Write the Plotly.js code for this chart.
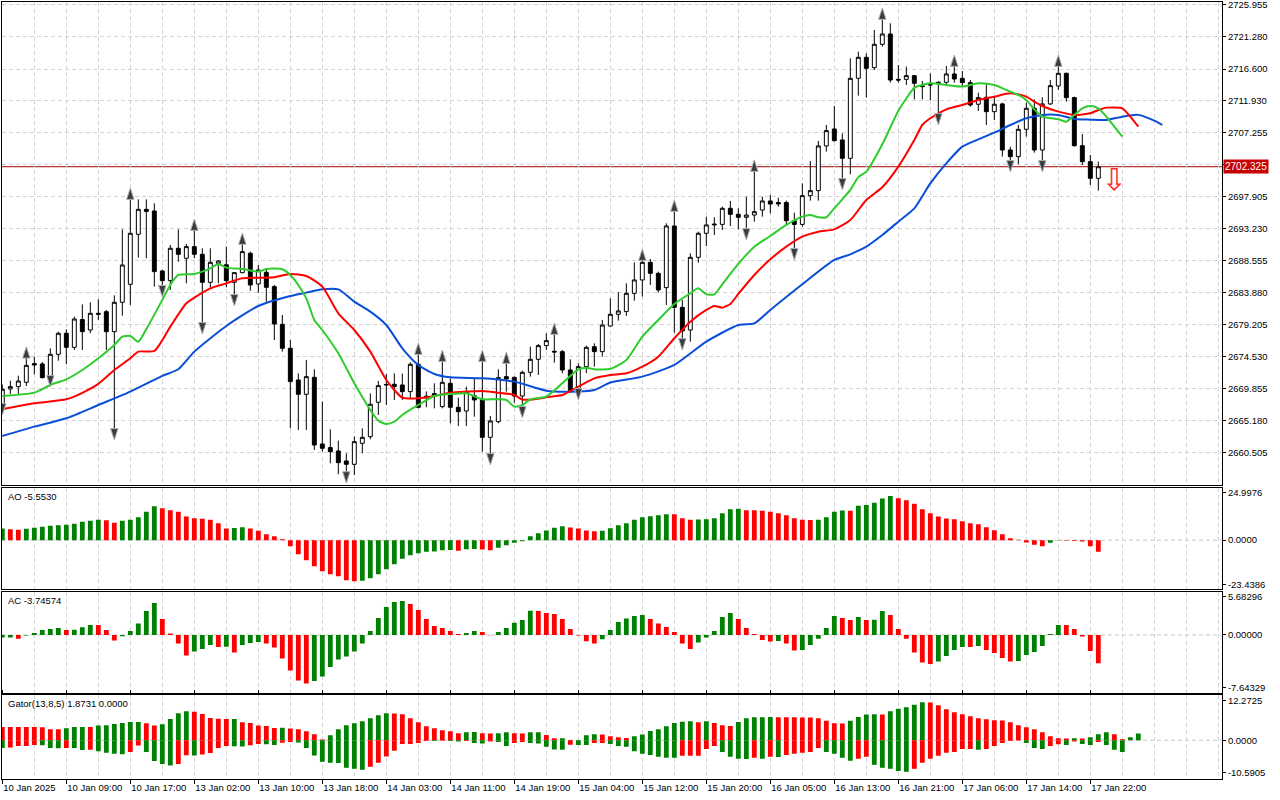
<!DOCTYPE html>
<html>
<head>
<meta charset="utf-8">
<script src="https://cdn.plot.ly/plotly-3.0.1.min.js"></script>
<style>
  html, body { margin: 0; padding: 0; background: #fff; }
  #chart { width: 1280px; height: 800px; }
</style>
</head>
<body>
<div id="chart"></div>
<script>
// XAUUSD H1, 10 Jan 01:00 .. 17 Jan 22:00 (bar index = hour)
const opens = [2667.27,2669.86,2670.2,2670.83,2673.56,2673.51,2671.51,2674.92,2677.99,2675.94,
  2680.0,2678.47,2680.91,2681.15,2678.23,2682.52,2685.15,2692.45,2696.1,2695.86,
  2687.1,2685.68,2690.41,2688.95,2690.65,2689.53,2685.44,2688.2,2688.0,2685.44,
  2686.85,2689.68,2685.2,2686.9,2684.81,2679.3,2675.8,2671.17,2669.08,2671.56,
  2661.82,2661.29,2660.8,2659.34,2658.85,2661.92,2662.89,2667.91,2670.44,2670.54,
  2670.44,2669.47,2673.46,2668.6,2668.9,2667.28,2670.68,2667.18,2666.64,2668.88,
  2668.35,2662.79,2665.08,2671.66,2671.56,2668.83,2672.29,2674.19,2676.19,2675.36,
  2675.31,2672.63,2669.6,2673.12,2676.04,2675.31,2679.06,2680.77,2681.16,2683.83,
  2685.78,2688.36,2686.75,2684.66,2693.67,2681.78,2678.47,2689.09,2692.6,2693.95,
  2693.9,2696.25,2695.37,2694.94,2695.27,2696.0,2697.32,2697.1,2697.1,2694.45,
  2693.9,2698.1,2698.83,2705.36,2707.84,2706.24,2703.55,2715.24,2718.31,2716.8,
  2720.21,2721.72,2715.09,2715.09,2715.63,2714.17,2714.27,2714.66,2714.66,2715.88,
  2715.24,2714.61,2711.45,2712.47,2710.37,2711.5,2704.77,2703.8,2707.79,2710.86,
  2704.77,2711.5,2714.12,2715.97,2712.42,2705.4,2703.07,2700.63];
const highs = [2670.5,2671.07,2671.8,2674.68,2674.58,2673.8,2675.8,2678.23,2678.57,2680.42,
  2682.22,2682.52,2682.95,2681.4,2683.54,2693.18,2697.71,2697.56,2697.56,2696.98,
  2687.24,2690.9,2693.18,2691.04,2693.33,2690.41,2690.41,2688.7,2690.65,2686.9,
  2692.11,2689.92,2687.97,2687.5,2685.05,2680.67,2677.01,2672.15,2674.09,2672.73,
  2668.0,2663.96,2662.31,2660.46,2662.9,2664.11,2669.22,2671.02,2672.05,2672.15,
  2672.1,2673.75,2675.31,2669.5,2670.68,2674.34,2671.41,2668.59,2670.2,2671.32,
  2674.24,2665.91,2672.73,2673.85,2671.66,2672.53,2676.04,2676.43,2677.99,2678.13,
  2675.55,2674.19,2673.6,2676.19,2676.53,2679.94,2683.1,2684.0,2685.29,2688.36,
  2688.85,2688.85,2686.99,2694.06,2696.0,2682.86,2689.68,2692.84,2695.03,2694.94,
  2696.49,2697.32,2696.25,2697.95,2703.31,2697.95,2698.2,2697.8,2697.37,2695.61,
  2699.9,2703.16,2706.09,2708.43,2711.2,2707.21,2718.16,2719.14,2718.89,2722.3,
  2724.64,2723.28,2717.19,2716.95,2715.73,2714.85,2715.97,2714.8,2717.04,2717.43,
  2716.31,2714.99,2713.15,2714.51,2712.56,2711.69,2705.26,2708.42,2711.69,2712.17,
  2712.47,2714.99,2717.43,2716.07,2712.56,2707.11,2704.04,2703.07];
const lows = [2666.6,2669.13,2669.13,2670.29,2672.0,2671.4,2671.12,2673.99,2673.46,2675.55,
  2675.55,2678.0,2679.94,2675.55,2663.38,2680.57,2682.13,2689.04,2688.95,2684.81,
  2684.32,2684.32,2688.46,2685.29,2688.95,2678.96,2684.71,2685.29,2684.71,2683.1,
  2686.75,2684.2,2683.93,2682.61,2677.01,2675.31,2664.11,2663.87,2663.87,2660.94,
  2660.7,2659.0,2657.39,2656.66,2657.29,2660.46,2662.5,2666.06,2667.52,2668.25,
  2668.25,2668.49,2667.03,2667.18,2667.03,2667.03,2664.84,2664.45,2664.45,2665.81,
  2660.7,2659.73,2664.84,2669.47,2667.86,2666.54,2671.66,2671.9,2675.55,2673.7,
  2672.15,2669.32,2668.64,2672.15,2673.12,2674.58,2678.96,2679.84,2680.52,2682.76,
  2683.35,2685.05,2683.93,2682.13,2678.09,2676.53,2676.77,2688.31,2690.74,2692.35,
  2693.08,2693.67,2693.18,2692.6,2694.3,2695.03,2695.52,2696.49,2693.82,2689.77,
  2693.57,2697.37,2697.37,2704.53,2705.99,2699.9,2701.22,2712.71,2712.42,2716.46,
  2719.87,2714.61,2714.61,2714.27,2712.17,2712.17,2712.07,2709.88,2714.27,2714.61,
  2714.12,2711.1,2710.47,2708.42,2709.15,2703.8,2702.68,2702.68,2706.72,2704.38,
  2702.68,2711.35,2713.54,2711.83,2705.26,2702.58,2699.66,2698.83];
const closes = [2669.81,2670.2,2671.02,2673.31,2673.36,2671.51,2674.92,2677.99,2675.94,2680.08,
  2678.23,2680.91,2680.78,2678.23,2682.52,2687.97,2692.6,2696.1,2695.8,2687.0,
  2685.68,2690.41,2689.53,2690.65,2689.53,2685.44,2688.36,2688.55,2685.68,2686.85,
  2689.92,2685.05,2687.24,2684.71,2679.35,2675.8,2670.93,2669.08,2671.66,2661.67,
  2661.19,2660.7,2659.09,2658.85,2662.16,2662.79,2667.62,2670.34,2670.5,2670.2,
  2669.47,2673.46,2667.18,2668.8,2669.2,2670.83,2667.18,2666.54,2669.47,2668.25,
  2662.79,2665.18,2671.51,2671.32,2668.83,2672.29,2674.19,2676.19,2676.92,2675.26,
  2672.63,2669.6,2673.12,2675.94,2675.31,2679.2,2680.77,2681.26,2683.83,2685.78,
  2688.36,2686.75,2684.32,2693.67,2681.78,2678.33,2689.09,2692.6,2693.82,2693.85,
  2696.25,2695.37,2694.94,2695.27,2695.76,2697.32,2696.88,2696.88,2694.45,2693.9,
  2698.1,2698.83,2705.36,2707.6,2706.14,2703.55,2715.24,2718.31,2716.7,2720.21,
  2721.72,2714.99,2714.99,2715.63,2714.51,2714.03,2714.3,2714.5,2715.88,2715.14,
  2714.61,2711.35,2712.42,2710.37,2711.45,2704.77,2703.8,2707.79,2710.86,2704.77,
  2711.5,2714.17,2715.97,2712.42,2705.4,2703.07,2700.63,2702.325];

// Alligator lines, sampled at bar indices (they run past the last bar: shifted forward)
const jawBars = [0,4,8,12,16,20,22,24,28,32,36,38,40,42,44,46,48,50,52,54,56,60,64,68,72,74,76,80,84,88,92,94,96,100,104,106,108,110,112,114,116,118,120,122,124,126,128,130,132,134,136,138,140,142,144,145];
const jawVals = [2662.99,2664.35,2665.57,2667.52,2669.47,2671.76,2672.73,2675.31,2679.06,2681.98,2683.44,2683.93,2684.42,2684.4,2682.61,2681.15,2679.2,2675.8,2673.36,2672.05,2671.56,2671.41,2670.93,2669.61,2669.5,2669.71,2670.8,2671.66,2673.36,2676.77,2679.2,2679.45,2681.4,2685.15,2688.7,2689.53,2690.65,2692.35,2694.3,2696.25,2699.9,2702.82,2705.26,2706.33,2707.3,2708.42,2709.4,2709.89,2709.89,2709.3,2709.2,2709.15,2709.64,2709.9,2709.06,2708.42];
const teethBars = [0,4,8,10,12,14,16,17,19,21,23,24,26,28,30,32,34,36,38,40,42,44,46,48,50,52,54,56,58,60,62,64,65,66,68,70,72,74,76,78,80,82,84,86,88,89,90,91,92,94,96,98,100,102,104,106,108,110,112,114,115,116,118,120,122,124,126,128,129,130,132,134,136,137,138,140,141,142];
const teethVals = [2666.88,2667.76,2668.35,2669.3,2670.6,2672.63,2674.34,2675.31,2675.41,2678.96,2682.37,2683.2,2684.56,2685.29,2686.02,2686.1,2686.17,2686.66,2686.36,2684.81,2680.91,2678.47,2675.31,2671.17,2668.59,2668.49,2668.83,2669.32,2669.47,2669.56,2669.32,2668.98,2668.3,2668.3,2668.64,2668.98,2670.2,2671.41,2671.9,2672.14,2673.12,2674.58,2677.26,2679.69,2681.4,2681.98,2681.74,2682.27,2683.74,2686.51,2688.8,2690.65,2692.11,2692.84,2693.18,2694.54,2697.47,2699.32,2702.34,2706.23,2708.42,2709.4,2710.71,2711.35,2712.08,2712.56,2713.05,2712.56,2711.83,2711.2,2710.37,2709.89,2710.13,2710.62,2710.96,2710.86,2709.64,2708.18];
const lipsBars = [0,4,6,8,10,12,14,15,16,17,18,20,21,22,24,26,27,28,30,32,33,34,35,36,37,38,39,40,42,44,46,47,48,49,50,52,54,56,58,60,62,63,64,65,66,68,70,72,73,74,76,78,80,82,84,86,87,88,89,90,92,94,96,98,100,101,102,103,104,105,106,107,108,110,112,113,114,116,118,120,122,124,126,127,128,129,130,132,133,134,135,136,137,138,139,140];
const lipsVals = [2668.83,2669.32,2670.44,2671.27,2672.63,2674.34,2676.28,2677.5,2677.6,2676.77,2678.6,2682.86,2685.05,2686.51,2686.66,2687.48,2688.12,2687.58,2687.39,2687.0,2687.39,2687.44,2687.34,2686.51,2685.05,2683.1,2679.94,2678.47,2675.07,2670.68,2666.79,2665.23,2664.74,2665.08,2666.06,2667.52,2668.83,2669.12,2669.22,2668.35,2668.35,2668.25,2667.27,2667.5,2668.35,2668.74,2670.68,2672.73,2672.97,2672.73,2672.8,2674.09,2677.5,2679.94,2682.27,2683.83,2684.56,2683.69,2683.69,2685.15,2688.12,2690.65,2692.21,2693.82,2695.03,2695.28,2694.94,2694.94,2696.25,2697.56,2698.93,2700.8,2701.6,2705.6,2710.5,2712.3,2713.85,2714.51,2714.27,2714.03,2714.51,2714.27,2713.29,2712.81,2712.08,2710.71,2709.64,2709.25,2708.91,2709.89,2710.86,2711.2,2710.86,2709.64,2708.18,2706.72];

// Bill Williams fractals (arrow positions)
const upFractalBars = [3,16,24,30,52,55,60,63,69,80,84,94,110,119,132];
const upFractalPrice = [2676.03,2699.22,2694.69,2692.65,2676.57,2675.55,2675.55,2675.26,2679.5,2690.3,2697.47,2703.31,2725.52,2718.65,2718.65];
const downFractalBars = [0,6,14,20,25,29,43,61,65,72,85,93,99,105,117,126,130];
const downFractalPrice = [2666.06,2670.15,2662.4,2683.3,2677.89,2681.98,2656.1,2658.75,2665.62,2668.25,2675.55,2691.62,2688.7,2698.93,2708.42,2701.56,2701.56];
const sellSignalBars = [139];
const sellSignalPrice = [2700.0];

// Awesome Oscillator
const aoVals = [5.56,5.24,4.93,5.40,5.88,6.36,6.83,7.15,7.31,7.79,
  8.74,9.21,9.69,9.53,8.26,9.21,9.69,10.96,13.5,16.2,
  15.25,14.3,13.5,11.28,10.49,10.17,9.69,8.1,5.6,5.8,
  6.2,5.56,4.45,2.86,1.9,0.4,-2.86,-6.67,-9.53,-12.39,
  -14.78,-16.2,-17.16,-19.07,-19.54,-19.4,-18.11,-16.2,-13.82,-11.44,
  -8.9,-7.15,-6.2,-5.56,-5.4,-4.77,-4.7,-5.08,-4.29,-4.2,
  -4.4,-4.77,-3.65,-2.38,-1.27,-0.48,1.9,3.34,4.61,5.88,
  6.67,6.04,5.56,4.61,4.29,4.45,5.72,7.15,8.1,9.69,
  10.96,11.44,11.92,12.39,12.3,10.49,9.69,9.8,10.01,10.49,
  12.87,14.78,14.95,14.3,14.2,13.98,13.5,12.87,11.92,10.49,
  9.69,9.6,9.7,10.96,13.5,14.14,14.0,16.4,16.7,17.8,
  19.86,21.0,20.0,19.0,17.3,14.78,12.87,11.28,10.33,10.01,
  9.05,8.1,7.63,6.2,4.77,2.86,0.95,0.16,-1.11,-2.22,
  -2.86,-1.2,-0.2,-0.3,-0.35,-0.64,-2.86,-5.553];

// Accelerator Oscillator
const acVals = [-0.35,-0.35,-0.49,-0.09,0.26,0.66,0.79,0.93,0.66,0.7,
  1.01,1.32,1.3,0.66,-0.75,-0.18,0.53,1.5,3.18,4.23,
  2.12,0.18,-1.15,-2.73,-2.21,-1.85,-1.32,-1.59,-1.55,-2.34,
  -1.32,-1.06,-0.93,-1.15,-1.68,-3.13,-4.72,-6.04,-6.44,-6.09,
  -5.51,-4.23,-3.26,-2.87,-2.21,-1.15,0.53,2.25,3.71,4.37,
  4.5,4.1,3.31,2.12,1.19,0.93,0.53,0.13,0.26,0.53,
  0.4,-0.05,0.4,0.9,1.6,1.99,3.2,3.18,2.91,2.78,
  2.12,0.79,-0.09,-0.84,-1.15,-0.57,0.66,1.72,2.16,2.51,
  2.65,2.12,1.5,1.06,0.4,-1.15,-1.85,-1.01,-0.35,0.53,
  2.38,2.91,2.12,0.93,0.13,-0.66,-0.88,-0.8,-1.15,-2.07,
  -1.99,-1.32,-0.49,0.93,2.51,2.25,1.99,2.38,1.99,2.0,
  3.18,2.65,0.79,-0.49,-2.34,-3.66,-3.84,-3.53,-2.78,-1.99,
  -1.59,-1.6,-1.46,-1.99,-2.38,-3.04,-3.53,-3.44,-2.65,-2.25,
  -1.46,0.13,1.32,1.3,0.79,-0.22,-2.12,-3.746];

// Gator Oscillator (upper: jaw-teeth, lower: teeth-lips, both as magnitudes)
const gatorUpper = [3.63,3.63,3.63,3.63,3.6,3.55,3.0,3.0,3.27,3.63,
  3.63,3.6,4.0,4.08,4.45,4.72,5.0,5.0,4.63,4.0,
  4.36,5.81,7.35,7.9,7.8,7.17,6.08,5.9,5.8,5.82,
  4.9,4.72,4.0,3.9,3.36,3.4,3.18,3.0,2.45,1.63,
  0.18,1.36,3.0,4.08,4.63,5.17,5.99,6.8,7.35,7.3,
  7.08,5.99,4.9,3.81,3.27,2.72,2.45,1.9,2.2,2.25,
  1.9,1.85,1.9,2.18,1.9,1.85,2.18,2.2,1.45,0.54,
  0.55,0.05,0.0,1.36,1.63,1.54,1.09,0.82,0.64,1.09,
  1.54,2.54,3.0,3.81,4.72,5.08,5.17,4.9,5.17,4.72,
  4.08,3.9,5.0,5.99,6.26,6.3,6.35,6.3,6.26,6.26,
  6.2,6.2,5.99,5.35,4.63,4.6,5.35,6.35,7.0,7.08,
  7.0,7.9,8.6,9.0,9.71,10.35,10.3,9.53,8.44,7.62,
  7.08,6.53,5.99,5.72,5.44,5.4,4.9,4.08,3.54,3.0,
  2.18,1.09,0.54,0.5,0.54,0.5,0.82,1.63,2.18,1.63,
  0.27,0.82,1.87];
const gatorLower = [2.1,2.0,1.6,1.55,1.3,1.4,2.1,2.2,2.1,2.15,
  2.7,2.6,3.0,3.45,3.7,3.8,3.2,1.45,3.2,5.7,
  6.5,6.9,6.5,4.1,4.2,3.9,3.5,2.1,1.6,1.65,
  1.7,1.4,1.0,1.1,1.3,0.7,0.45,0.6,2.1,4.17,
  5.9,6.17,6.2,7.53,7.8,8.08,7.26,6.17,4.45,2.9,
  1.0,1.0,0.73,0.18,0.2,0.15,0.2,0.36,0.18,0.73,
  0.9,0.36,0.45,1.54,0.73,0.45,0.73,0.9,1.81,2.54,
  2.6,1.2,1.27,1.27,0.73,0.73,1.0,1.54,1.81,3.0,
  3.72,4.0,4.54,4.81,4.81,4.26,4.26,4.26,2.36,1.54,
  3.18,4.54,5.08,5.1,4.81,5.08,4.54,4.6,4.0,3.72,
  3.45,3.18,2.09,3.18,3.72,4.81,5.63,5.08,4.54,6.72,
  7.53,7.8,8.4,8.62,7.8,6.17,5.08,4.26,3.45,3.18,
  2.36,2.36,2.63,2.36,1.54,0.73,0.18,0.09,0.73,2.09,
  2.36,1.54,1.09,1.27,0.36,1.0,1.27,0.45,1.27,2.63,
  3.18];

// axis labels
const xTickBars = [0,8,16,24,32,40,48,56,64,72,80,88,96,104,112,120,128,136];
const xTickLabels = ['10 Jan 2025','10 Jan 09:00','10 Jan 17:00','13 Jan 02:00','13 Jan 10:00','13 Jan 18:00',
  '14 Jan 03:00','14 Jan 11:00','14 Jan 19:00','15 Jan 04:00','15 Jan 12:00','15 Jan 20:00',
  '16 Jan 05:00','16 Jan 13:00','16 Jan 21:00','17 Jan 06:00','17 Jan 14:00','17 Jan 22:00'];
const priceTicks = [2660.505,2665.180,2669.855,2674.530,2679.205,2683.880,2688.555,2693.230,2697.905,2702.580,2707.255,2711.930,2716.600,2721.280,2725.955];
const priceTickLabels = ['2660.505','2665.180','2669.855','2674.530','2679.205','2683.880','2688.555','2693.230','2697.905','','2707.255','2711.930','2716.600','2721.280','2725.955'];
const aoRange = [-23.4386, 24.9976];
const acRange = [-7.64329, 5.68296];
const gatorRange = [-10.5905, 12.2725];

const GREEN = '#008000';
const RED = '#ff0000';
const GRID = '#d4d4d4';
const DASH = '4px,3px';

const bars = opens.map((_, i) => i);
const lastClose = closes[closes.length - 1];

// MT5 style: green when value grew vs previous bar, red when it fell, keep colour when equal
function trendColors(vals, first) {
  let c = first;
  return vals.map((v, i) => {
    if (i > 0) {
      if (v > vals[i - 1]) c = GREEN;
      else if (v < vals[i - 1]) c = RED;
    }
    return c;
  });
}

const fractalMarker = angle => ({
  symbol: 'arrow', angle, size: 12, color: '#3c3c3c', line: { color: '#a8b0b8', width: 1 }
});

const traces = [
  {
    type: 'candlestick', x: bars, open: opens, high: highs, low: lows, close: closes,
    xaxis: 'x', yaxis: 'y',
    increasing: { line: { color: '#000', width: 1 }, fillcolor: '#ffffff' },
    decreasing: { line: { color: '#000', width: 1 }, fillcolor: '#000000' },
    whiskerwidth: 0, hoverinfo: 'skip'
  },
  { type: 'scatter', mode: 'lines', x: jawBars, y: jawVals, xaxis: 'x', yaxis: 'y',
    line: { color: '#0a4ed8', width: 2, shape: 'spline', smoothing: 0.6 }, hoverinfo: 'skip' },
  { type: 'scatter', mode: 'lines', x: teethBars, y: teethVals, xaxis: 'x', yaxis: 'y',
    line: { color: '#ff0000', width: 2, shape: 'spline', smoothing: 0.6 }, hoverinfo: 'skip' },
  { type: 'scatter', mode: 'lines', x: lipsBars, y: lipsVals, xaxis: 'x', yaxis: 'y',
    line: { color: '#2ecc2e', width: 2, shape: 'spline', smoothing: 0.6 }, hoverinfo: 'skip' },
  { type: 'scatter', mode: 'markers', x: upFractalBars, y: upFractalPrice, xaxis: 'x', yaxis: 'y',
    marker: fractalMarker(0), hoverinfo: 'skip' },
  { type: 'scatter', mode: 'markers', x: downFractalBars, y: downFractalPrice, xaxis: 'x', yaxis: 'y',
    marker: fractalMarker(180), hoverinfo: 'skip' },
  { type: 'scatter', mode: 'text', x: sellSignalBars, y: sellSignalPrice, xaxis: 'x', yaxis: 'y',
    text: ['⇩'], textfont: { family: 'DejaVu Sans', size: 30, color: '#ff2a2a' }, hoverinfo: 'skip' },
  { type: 'bar', x: bars, y: aoVals, xaxis: 'x', yaxis: 'y2', width: 0.6,
    marker: { color: trendColors(aoVals, GREEN) }, hoverinfo: 'skip' },
  { type: 'bar', x: bars, y: acVals, xaxis: 'x', yaxis: 'y3', width: 0.6,
    marker: { color: trendColors(acVals, GREEN) }, hoverinfo: 'skip' },
  { type: 'bar', x: gatorUpper.map((_, i) => i), y: gatorUpper, xaxis: 'x', yaxis: 'y4', width: 0.6,
    marker: { color: trendColors(gatorUpper, RED) }, hoverinfo: 'skip' },
  { type: 'bar', x: gatorLower.map((_, i) => i), y: gatorLower.map(v => -v), xaxis: 'x', yaxis: 'y4', width: 0.6,
    marker: { color: trendColors(gatorLower, GREEN) }, hoverinfo: 'skip' }
];

const gridBars = [];
for (let b = 0; b <= 152; b += 4) gridBars.push(b);

const subAxis = (domain, range, vals, text) => ({
  domain, range, side: 'right', fixedrange: true, automargin: false,
  tickmode: 'array', tickvals: vals, ticktext: text, ticklabeloverflow: 'allow',
  ticks: 'outside', ticklen: 3, tickcolor: '#000',
  showgrid: false, zeroline: false,
  showline: true, mirror: true, linecolor: '#000', linewidth: 1
});

const zeroLine = yref => ({
  type: 'line', xref: 'paper', x0: 0, x1: 1, yref, y0: 0, y1: 0,
  line: { color: '#c8c8c8', width: 1, dash: DASH }, layer: 'below'
});

const layout = {
  width: 1280, height: 800,
  margin: { l: 2, r: 58, t: 2, b: 21 },
  paper_bgcolor: '#ffffff', plot_bgcolor: '#ffffff',
  font: { family: 'Liberation Sans, Arial, sans-serif', size: 9.5, color: '#000' },
  showlegend: false, hovermode: false, barmode: 'overlay',
  xaxis: {
    anchor: 'y4', range: [-0.04, 152.46], fixedrange: true, automargin: false,
    rangeslider: { visible: false },
    tickmode: 'array', tickvals: xTickBars, ticktext: xTickLabels, ticklabeloverflow: 'allow',
    ticks: 'outside', ticklen: 4, tickcolor: '#000', ticklabelposition: 'outside right',
    showgrid: true, gridcolor: GRID, griddash: DASH, gridwidth: 1,
    minor: { tickmode: 'array', tickvals: gridBars, showgrid: true, gridcolor: GRID, griddash: DASH, ticks: '' },
    zeroline: false, showline: true, mirror: 'all', linecolor: '#000', linewidth: 1
  },
  yaxis: {
    domain: [0.3784, 1], range: [2655.83, 2726.39], side: 'right', fixedrange: true, automargin: false,
    tickmode: 'array', tickvals: priceTicks, ticktext: priceTickLabels, ticklabeloverflow: 'allow',
    ticks: 'outside', ticklen: 3, tickcolor: '#000',
    showgrid: true, gridcolor: GRID, griddash: DASH, gridwidth: 1,
    zeroline: false, showline: true, mirror: true, linecolor: '#000', linewidth: 1
  },
  yaxis2: subAxis([0.2441, 0.3749], aoRange, [22.85, 0, -21.3], ['24.9976', '0.0000', '-23.4386']),
  yaxis3: subAxis([0.1111, 0.2407], acRange, [5.02, 0, -6.98], ['5.68296', '0.00000', '-7.64329']),
  yaxis4: subAxis([0, 0.1077], gatorRange, [10.91, 0, -8.95], ['12.2725', '0.0000', '-10.5905']),
  shapes: [
    { type: 'line', xref: 'paper', x0: 0, x1: 1, yref: 'y', y0: lastClose, y1: lastClose,
      line: { color: '#a40000', width: 1 }, layer: 'below' },
    zeroLine('y2'), zeroLine('y3'), zeroLine('y4')
  ],
  annotations: [
    { xref: 'paper', yref: 'y', x: 1, y: lastClose, xanchor: 'left', yanchor: 'middle', xshift: 1,
      text: lastClose.toFixed(3), showarrow: false, bgcolor: '#c80000', borderpad: 1,
      font: { color: '#ffffff', size: 10 } },
    { xref: 'paper', yref: 'paper', x: 0.0033, y: 0.3749, xanchor: 'left', yanchor: 'top', yshift: -1,
      text: 'AO -5.5530', showarrow: false, font: { size: 9.5 } },
    { xref: 'paper', yref: 'paper', x: 0.0033, y: 0.2407, xanchor: 'left', yanchor: 'top', yshift: -1,
      text: 'AC -3.74574', showarrow: false, font: { size: 9.5 } },
    { xref: 'paper', yref: 'paper', x: 0.0033, y: 0.1077, xanchor: 'left', yanchor: 'top', yshift: -1,
      text: 'Gator(13,8,5) 1.8731 0.0000', showarrow: false, font: { size: 9.5 } }
  ]
};

Plotly.newPlot('chart', traces, layout, { staticPlot: true, displayModeBar: false });
</script>
</body>
</html>
